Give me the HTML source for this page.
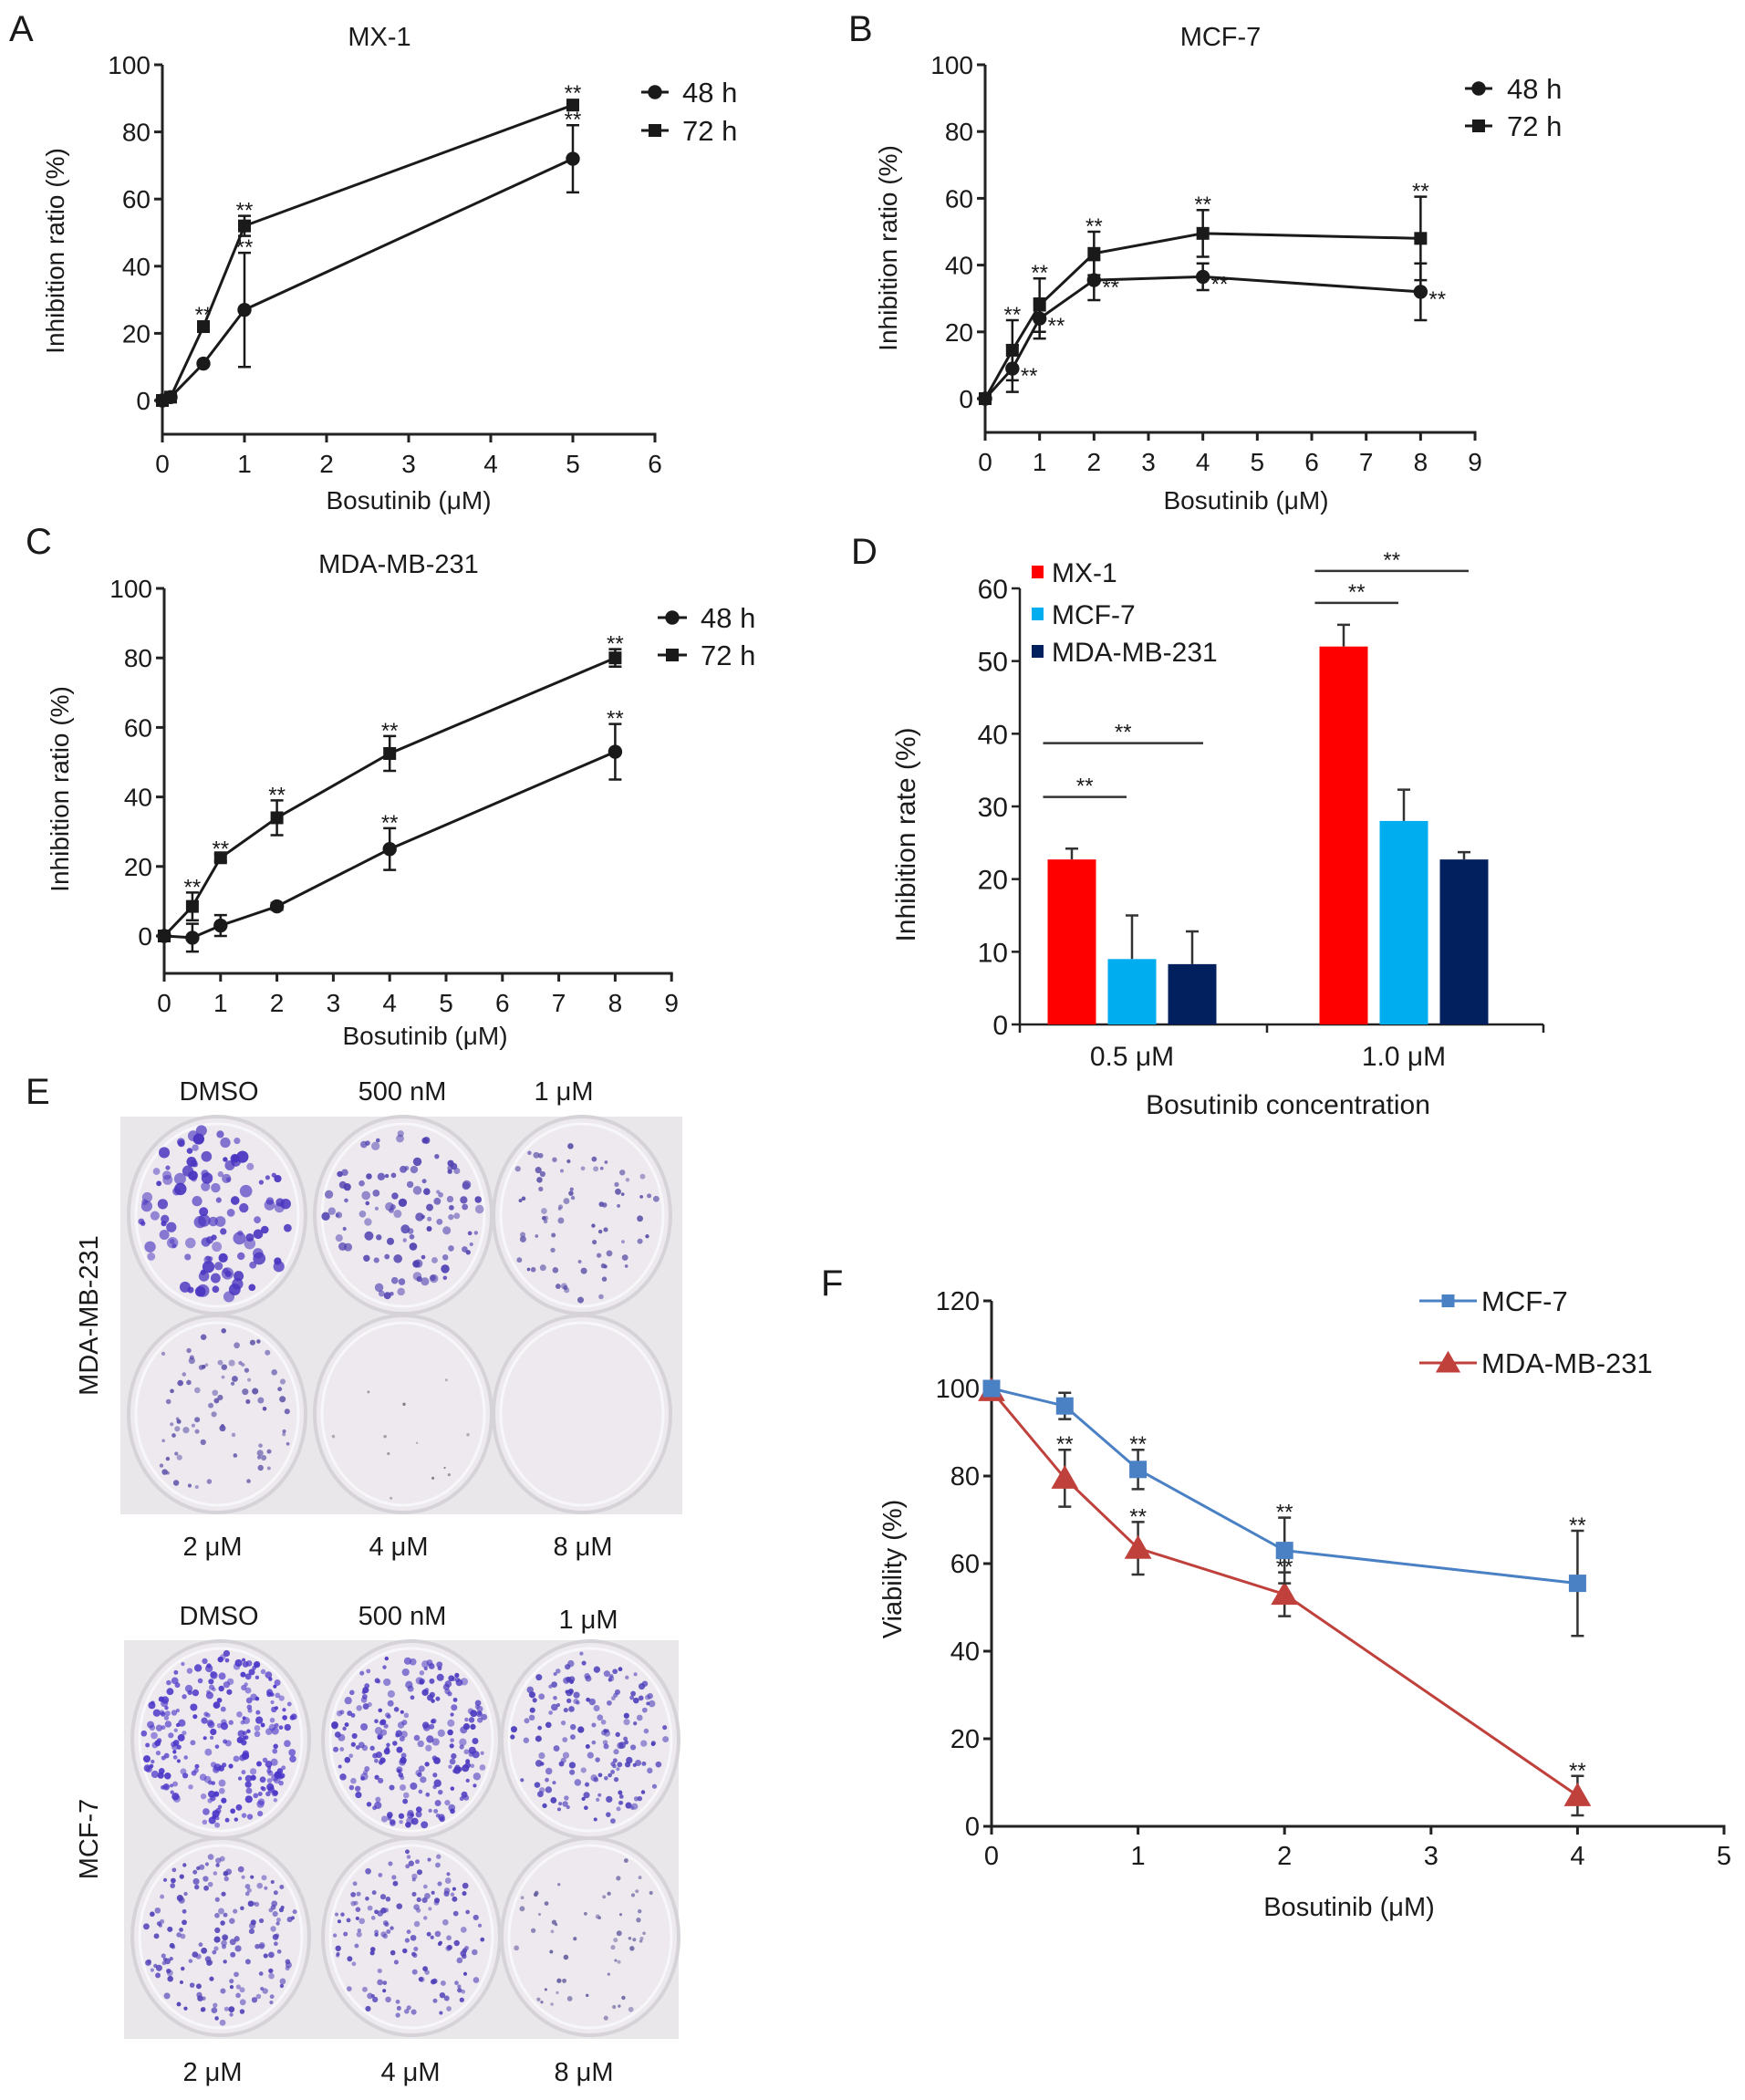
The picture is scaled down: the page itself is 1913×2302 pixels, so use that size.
<!DOCTYPE html>
<html><head><meta charset="utf-8"><title>Bosutinib inhibition figure</title>
<style>
html,body{margin:0;padding:0;background:#fff;}
svg{display:block;}
text{font-family:"Liberation Sans",sans-serif;fill:#1a1a1a;}
.n{font-family:"Liberation Sans Narrow","Liberation Sans",sans-serif;}
</style></head>
<body>
<svg id="fig" width="1913" height="2302" viewBox="0 0 1913 2302" xmlns="http://www.w3.org/2000/svg">
<text x="10" y="45" font-size="40">A</text>
<text x="930" y="45" font-size="40">B</text>
<text x="28" y="607" font-size="40">C</text>
<text x="933" y="618" font-size="40">D</text>
<text x="28" y="1210" font-size="40">E</text>
<text x="900" y="1420" font-size="40">F</text>
<g id="gA"></g>
<g id="gB"></g>
<g id="gC"></g>
<g id="gD"></g>
<g id="gE"></g>
<g id="gF"></g>
</svg>
<script>
// ---- Panel A data (MX-1) ----
const aX = [0, 0.1, 0.5, 1, 5];
const a48 = [0, 1, 11, 27, 72];
const a48Err = [0, 0, 0, 17, 10];
const a72 = [0, 1, 22, 52, 88];
const a72Err = [0, 0, 0, 3, 0];
const a48Star = [0, 0, 0, 1, 1];
const a72Star = [0, 0, 1, 1, 1];
const aXTicks = [0, 1, 2, 3, 4, 5, 6];
const aYTicks = [0, 20, 40, 60, 80, 100];
// ---- Panel B data (MCF-7) ----
const bX = [0, 0.5, 1, 2, 4, 8];
const b48 = [0, 9, 24, 35.5, 36.5, 32];
const b48Err = [0, 7, 6, 6, 4, 8.5];
const b72 = [0, 14.5, 28, 43.5, 49.5, 48];
const b72Err = [0, 9, 8, 6.5, 7, 12.5];
const b48Star = [0, 1, 1, 1, 1, 1];
const b72Star = [0, 1, 1, 1, 1, 1];
const bXTicks = [0, 1, 2, 3, 4, 5, 6, 7, 8, 9];
const bYTicks = [0, 20, 40, 60, 80, 100];
// ---- Panel C data (MDA-MB-231) ----
const cX = [0, 0.5, 1, 2, 4, 8];
const c48 = [0, -0.5, 3, 8.5, 25, 53];
const c48Err = [0, 4, 3, 1, 6, 8];
const c72 = [0, 8.5, 22.5, 34, 52.5, 80];
const c72Err = [0, 4, 1, 5, 5, 2.5];
const c48Star = [0, 0, 0, 0, 1, 1];
const c72Star = [0, 1, 1, 1, 1, 1];
const cXTicks = [0, 1, 2, 3, 4, 5, 6, 7, 8, 9];
const cYTicks = [0, 20, 40, 60, 80, 100];
// ---- Panel D data ----
const dCategories = ["0.5 μM", "1.0 μM"];
const dSeries = ["MX-1", "MCF-7", "MDA-MB-231"];
const dMX1 = [22.7, 52];
const dMX1Err = [1.5, 3];
const dMCF7 = [9, 28];
const dMCF7Err = [6, 4.3];
const dMDA = [8.3, 22.7];
const dMDAErr = [4.5, 1];
const dSigShort = [31.3, 58];
const dSigLong = [38.7, 62.4];
const dYTicks = [0, 10, 20, 30, 40, 50, 60];
// ---- Panel F data ----
const fX = [0, 0.5, 1, 2, 4];
const fMCF7 = [100, 96, 81.5, 63, 55.5];
const fMCF7Err = [0, 3, 4.5, 7.5, 12];
const fMDA = [99.5, 79.5, 63.5, 53, 7];
const fMDAErr = [0, 6.5, 6, 5, 4.5];
const fMCF7Star = [0, 0, 1, 1, 1];
const fMDAStar = [0, 1, 1, 1, 1];
const fXTicks = [0, 1, 2, 3, 4, 5];
const fYTicks = [0, 20, 40, 60, 80, 100, 120];

const NS = "http://www.w3.org/2000/svg";
function mk(parent, tag, attrs, txt) {
  const e = document.createElementNS(NS, tag);
  for (const k in attrs) e.setAttribute(k, attrs[k]);
  if (txt !== undefined) e.textContent = txt;
  parent.appendChild(e);
  return e;
}

function axes(g, o) {
  const sx = v => o.x0 + v * o.xu, sy = v => o.y0 - v * o.yu;
  const yAx = mk(g, "line", {x1: o.x0, y1: o.yTop, x2: o.x0, y2: o.axY, stroke: "#222", "stroke-width": 3});
  
  
  const xAx = mk(g, "line", {x1: o.x0 - 1.5, y1: o.axY, x2: sx(o.xTicks[o.xTicks.length - 1]) + 1.5, y2: o.axY, stroke: "#222", "stroke-width": 3});
  
  
  o.yTicks.forEach(v => {
    mk(g, "line", {x1: o.x0 - 9, y1: sy(v), x2: o.x0, y2: sy(v), stroke: "#222", "stroke-width": 3});
    const t = mk(g, "text", {x: o.x0 - 13, y: sy(v) + 10, "font-size": o.fs, "text-anchor": "end", class: o.cls}, v);
    
    
  });
  o.xTicks.forEach(v => {
    mk(g, "line", {x1: sx(v), y1: o.axY, x2: sx(v), y2: o.axY + 9, stroke: "#222", "stroke-width": 3});
    const t = mk(g, "text", {x: sx(v), y: o.axY + 42, "font-size": o.fs, "text-anchor": "middle", class: o.cls}, v);
    
    
  });
  const xt = mk(g, "text", {x: o.xtX, y: o.xtY, "font-size": o.fs, "text-anchor": "middle", class: o.cls}, o.xTitle);
  
  
  const yt = mk(g, "text", {x: 0, y: 0, "font-size": o.fs, "text-anchor": "middle", transform: `translate(${o.ytX},${o.ytY}) rotate(-90)`}, o.yTitle);
  
  
  return {sx, sy};
}

function marker(g, type, x, y, color, s) {
  let m;
  if (type === "circle") m = mk(g, "circle", {cx: x, cy: y, r: s * 0.55, fill: color});
  else if (type === "square") m = mk(g, "rect", {x: x - s / 2, y: y - s / 2, width: s, height: s, fill: color});
  else m = mk(g, "polygon", {points: `${x},${y - s * 0.6} ${x - s * 0.62},${y + s * 0.48} ${x + s * 0.62},${y + s * 0.48}`, fill: color});
  return m;
}

function series(g, ax, xs, ys, errs, stars, o) {
  const pts = xs.map((x, i) => ax.sx(x) + "," + ax.sy(ys[i])).join(" ");
  const pl = mk(g, "polyline", {points: pts, fill: "none", stroke: o.color, "stroke-width": o.lw});
  
  
  xs.forEach((x, i) => {
    const px = ax.sx(x);
    if (errs[i] > 0) {
      const top = ax.sy(ys[i] + errs[i]), bot = ax.sy(ys[i] - errs[i]);
      const eb = mk(g, "path", {d: `M${px},${top}V${bot}M${px - 7},${top}H${px + 7}M${px - 7},${bot}H${px + 7}`, stroke: o.ecolor || o.color, "stroke-width": 2.5, fill: "none"});
      
      
    }
    const m = marker(g, o.marker, px, ax.sy(ys[i]), o.color, o.ms);
    
    
    if (stars[i]) {
      let sxp = px, base, anchor = "middle";
      if (errs[i] > 0) base = ax.sy(ys[i] + errs[i]) + 2;
      else base = ax.sy(ys[i]) - o.ms / 2 + 2;
      if (o.starRight) { sxp = px + 9; base = ax.sy(ys[i]) + 16; anchor = "start"; }
      const s = mk(g, "text", {x: sxp, y: base, "font-size": 24, "text-anchor": anchor}, "**");
      
      
    }
  });
}

function legendEntry(g, x1, x2, y, type, color, label, tx, fs, cls) {
  const l = mk(g, "line", {x1: x1, y1: y, x2: x2, y2: y, stroke: color, "stroke-width": 3});
  
  
  marker(g, type, (x1 + x2) / 2, y, color, type === "triangle" ? 22 : 14);
  const t = mk(g, "text", {x: tx, y: y + fs * 0.36, "font-size": fs, class: cls}, label);
  
  
}

function lineChart(gid, o, s48, s72, title) {
  const g = document.getElementById(gid);
  const ax = axes(g, o);
  const tt = mk(g, "text", {x: title.x, y: title.y, "font-size": 29, "text-anchor": "middle", class: "n"}, title.t);
  
  
  series(g, ax, s48.x, s48.y, s48.e, s48.s, {color: "#1a1a1a", lw: 3, marker: "circle", ms: 14, name: "series-48h", starRight: s48.right});
  series(g, ax, s72.x, s72.y, s72.e, s72.s, {color: "#1a1a1a", lw: 3, marker: "square", ms: 14, name: "series-72h"});
  legendEntry(g, o.lg.x1, o.lg.x2, o.lg.y1, "circle", "#1a1a1a", "48 h", o.lg.tx, 31, "n");
  legendEntry(g, o.lg.x1, o.lg.x2, o.lg.y2, "square", "#1a1a1a", "72 h", o.lg.tx, 31, "n");
}

lineChart("gA", {x0: 178, xu: 90, y0: 439, yu: 3.68, yTop: 71, axY: 476, xTicks: aXTicks, yTicks: aYTicks, fs: 28, cls: "n",
  xTitle: "Bosutinib (μM)", xtX: 448, xtY: 558, yTitle: "Inhibition ratio (%)", ytX: 70, ytY: 275,
  lg: {x1: 703, x2: 733, y1: 101, y2: 143, tx: 748}},
  {x: aX, y: a48, e: a48Err, s: a48Star}, {x: aX, y: a72, e: a72Err, s: a72Star}, {x: 416, y: 50, t: "MX-1"});

lineChart("gB", {x0: 1080, xu: 59.67, y0: 437, yu: 3.66, yTop: 71, axY: 474, xTicks: bXTicks, yTicks: bYTicks, fs: 28, cls: "n",
  xTitle: "Bosutinib (μM)", xtX: 1366, xtY: 558, yTitle: "Inhibition ratio (%)", ytX: 983, ytY: 272,
  lg: {x1: 1606, x2: 1636, y1: 97, y2: 138, tx: 1652}},
  {x: bX, y: b48, e: b48Err, s: b48Star, right: true}, {x: bX, y: b72, e: b72Err, s: b72Star}, {x: 1338, y: 50, t: "MCF-7"});

lineChart("gC", {x0: 180, xu: 61.8, y0: 1026, yu: 3.81, yTop: 645, axY: 1067, xTicks: cXTicks, yTicks: cYTicks, fs: 28, cls: "n",
  xTitle: "Bosutinib (μM)", xtX: 466, xtY: 1145, yTitle: "Inhibition ratio (%)", ytX: 75, ytY: 865,
  lg: {x1: 721, x2: 753, y1: 677, y2: 718, tx: 768}},
  {x: cX, y: c48, e: c48Err, s: c48Star}, {x: cX, y: c72, e: c72Err, s: c72Star}, {x: 437, y: 628, t: "MDA-MB-231"});

// ---- Panel D ----
(function () {
  const g = document.getElementById("gD");
  const x0 = 1118, y0 = 1123, yu = 7.967, xEnd = 1692;
  const sy = v => y0 - v * yu;
  const groupCenter = [1241, 1539];
  const barW = 53, step = 66;
  const colors = ["#ff0000", "#00aeef", "#021f5e"];
  const vals = [dMX1, dMCF7, dMDA], errs = [dMX1Err, dMCF7Err, dMDAErr];
  const ya = mk(g, "line", {x1: x0, y1: sy(60), x2: x0, y2: y0, stroke: "#222", "stroke-width": 2.5});
  
  
  const xa = mk(g, "line", {x1: x0, y1: y0, x2: xEnd, y2: y0, stroke: "#222", "stroke-width": 2.5});
  
  
  dYTicks.forEach(v => {
    mk(g, "line", {x1: x0 - 9, y1: sy(v), x2: x0, y2: sy(v), stroke: "#222", "stroke-width": 2.5});
    const t = mk(g, "text", {x: x0 - 13, y: sy(v) + 11, "font-size": 30, "text-anchor": "end"}, v);
    
    
  });
  [x0, 1389, xEnd].forEach(x => mk(g, "line", {x1: x, y1: y0, x2: x, y2: y0 + 9, stroke: "#222", "stroke-width": 2.5}));
  dCategories.forEach((c, ci) => {
    const t = mk(g, "text", {x: groupCenter[ci], y: 1168, "font-size": 30, "text-anchor": "middle"}, c);
    
    
    vals.forEach((arr, si) => {
      const cx = groupCenter[ci] + (si - 1) * step;
      const v = arr[ci], e = errs[si][ci];
      const eb = mk(g, "path", {d: `M${cx},${sy(v)}V${sy(v + e)}M${cx - 7},${sy(v + e)}H${cx + 7}`, stroke: "#333", "stroke-width": 2.5, fill: "none"});
      
      
      const r = mk(g, "rect", {x: cx - barW / 2, y: sy(v), width: barW, height: v * yu, fill: colors[si]});
      
      
    });
    const left = groupCenter[ci] - step - barW / 2 - 5;
    [[sy(dSigShort[ci]), groupCenter[ci] - 6], [sy(dSigLong[ci]), groupCenter[ci] + step + (ci === 0 ? 12 : 5)]].forEach(([yy, right]) => {
      const l = mk(g, "line", {x1: left, y1: yy, x2: right, y2: yy, stroke: "#333", "stroke-width": 2.5});
      
      
      const s = mk(g, "text", {x: (left + right) / 2, y: yy - 4, "font-size": 24, "text-anchor": "middle"}, "**");
      
      
    });
  });
  const xt = mk(g, "text", {x: 1412, y: 1221, "font-size": 30, "text-anchor": "middle"}, "Bosutinib concentration");
  
  
  const yt = mk(g, "text", {x: 0, y: 0, "font-size": 30, "text-anchor": "middle", transform: "translate(1003,915) rotate(-90)"}, "Inhibition rate (%)");
  
  
  [627, 673, 714].forEach((y, i) => {
    const sq = mk(g, "rect", {x: 1131, y: y - 7, width: 13, height: 14, fill: colors[i]});
    
    
    const t = mk(g, "text", {x: 1153, y: y + 11, "font-size": 30}, dSeries[i]);
    
    
  });
})();

// ---- Panel F ----
(function () {
  const g = document.getElementById("gF");
  const o = {x0: 1087, xu: 160.6, y0: 2002, yu: 4.8, yTop: 1426, axY: 2002, xTicks: fXTicks, yTicks: fYTicks, fs: 29, cls: "n",
    xTitle: "Bosutinib (μM)", xtX: 1479, xtY: 2100, yTitle: "Viability (%)", ytX: 988, ytY: 1720};
  const ax = axes(g, o);
  series(g, ax, fX, fMDA, fMDAErr, fMDAStar, {color: "#c0403c", ecolor: "#333", lw: 3, marker: "triangle", ms: 24, name: "series-mda-mb-231"});
  series(g, ax, fX, fMCF7, fMCF7Err, fMCF7Star, {color: "#4a80c4", ecolor: "#333", lw: 3, marker: "square", ms: 19, name: "series-mcf-7"});
  legendEntry(g, 1556, 1619, 1426, "square", "#4a80c4", "MCF-7", 1624, 31, "n");
  legendEntry(g, 1556, 1619, 1494, "triangle", "#c0403c", "MDA-MB-231", 1624, 31, "n");
})();

// ---- Panel E (photographs of colony dishes, decorative) ----
(function () {
  const g = document.getElementById("gE");
  let seed = 12345;
  const rnd = () => { seed = (seed * 1103515245 + 12345) % 2147483648; return seed / 2147483648; };
  function photo(px, py, pw, ph, cols, rows, dishes, name) {
    const pg = mk(g, "g", {});
    
    
    mk(pg, "rect", {x: px, y: py, width: pw, height: ph, fill: "#e9e7e9"});
    let k = 0;
    rows.forEach(cy => cols.forEach(cx => {
      const d = dishes[k++];
      const rx = 97, ry = 108;
      const dish = mk(pg, "ellipse", {cx: cx, cy: cy, rx: rx, ry: ry, fill: "#eee9ee", stroke: "#d6d3d8", "stroke-width": 4});
      
      
      mk(pg, "ellipse", {cx: cx, cy: cy, rx: rx - 8, ry: ry - 8, fill: "none", stroke: "#f7f6f8", "stroke-width": 3});
      for (let i = 0; i < d.n; i++) {
        const a = rnd() * Math.PI * 2, r = Math.sqrt(rnd()) * 0.88;
        const rr = d.rmin + rnd() * (d.rmax - d.rmin);
        mk(pg, "circle", {cx: cx + Math.cos(a) * r * rx, cy: cy + Math.sin(a) * r * ry, r: rr, fill: d.c, opacity: 0.5 + rnd() * 0.45});
      }
    }));
  }
  photo(132, 1224, 616, 436, [238, 442, 638], [1332, 1550], [
    {n: 120, rmin: 2.5, rmax: 7, c: "#4a35c0"}, {n: 110, rmin: 2, rmax: 5, c: "#4d3fb0"}, {n: 75, rmin: 1.8, rmax: 3.6, c: "#5a50a8"},
    {n: 80, rmin: 1.8, rmax: 3.6, c: "#5a4fa8"}, {n: 12, rmin: 1, rmax: 1.8, c: "#777"}, {n: 0, rmin: 1, rmax: 1, c: "#777"}
  ], "photo-mda-mb-231");
  photo(136, 1798, 608, 437, [242, 451, 647], [1907, 2123], [
    {n: 260, rmin: 2, rmax: 4.2, c: "#4a35c8"}, {n: 230, rmin: 2, rmax: 4.2, c: "#4a38c0"}, {n: 170, rmin: 2, rmax: 3.8, c: "#4a3cba"},
    {n: 170, rmin: 2, rmax: 3.6, c: "#5040b8"}, {n: 150, rmin: 2, rmax: 3.4, c: "#5040b8"}, {n: 55, rmin: 1.5, rmax: 3, c: "#6660a0"}
  ], "photo-mcf-7");
  const labels = [
    ["DMSO", 240, 1206], ["500 nM", 441, 1206], ["1 μM", 618, 1206],
    ["2 μM", 233, 1705], ["4 μM", 437, 1705], ["8 μM", 639, 1705],
    ["DMSO", 240, 1781], ["500 nM", 441, 1781], ["1 μM", 645, 1785],
    ["2 μM", 233, 2281], ["4 μM", 450, 2281], ["8 μM", 640, 2281]
  ];
  labels.forEach(([t, x, y]) => {
    const e = mk(g, "text", {x: x, y: y, "font-size": 29, "text-anchor": "middle"}, t);
    
    
  });
  const s1 = mk(g, "text", {x: 0, y: 0, "font-size": 29, "text-anchor": "middle", transform: "translate(107,1442) rotate(-90)"}, "MDA-MB-231");
  
  
  const s2 = mk(g, "text", {x: 0, y: 0, "font-size": 29, "text-anchor": "middle", transform: "translate(107,2016) rotate(-90)"}, "MCF-7");
  
  
})();
</script>
</body></html>
